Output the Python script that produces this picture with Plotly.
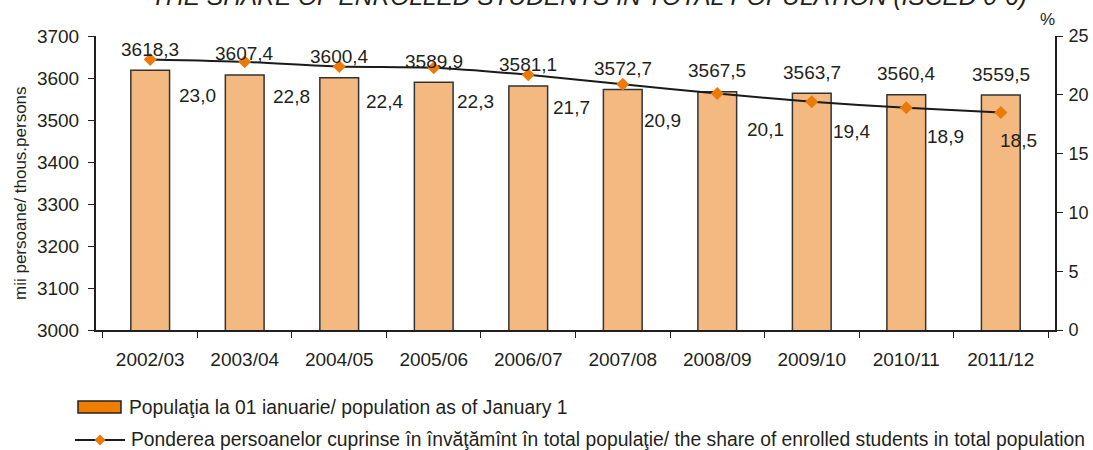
import plotly.graph_objects as go

# ---- data ----
years = ["2002/03", "2003/04", "2004/05", "2005/06", "2006/07",
         "2007/08", "2008/09", "2009/10", "2010/11", "2011/12"]
population = [3618.3, 3607.4, 3600.4, 3589.9, 3581.1,
              3572.7, 3567.5, 3563.7, 3560.4, 3559.5]
share_pct = [23.0, 22.8, 22.4, 22.3, 21.7, 20.9, 20.1, 19.4, 18.9, 18.5]

left_ticks = [3000, 3100, 3200, 3300, 3400, 3500, 3600, 3700]
right_ticks = [0, 5, 10, 15, 20, 25]

# ---- style ----
FONT = "Liberation Sans, Arial, sans-serif"
TXT = "#231F20"
BAR_FILL = "#F4B981"
BAR_LINE = "#333333"
MARK = "#EC7A08"
LEG_SWATCH = "#EE7D00"
# label offsets (px) for percent labels
pct_dx = [47, 47, 45, 42, 43, 40, 48, 40, 39, 18]
pct_dy = [-36, -35, -35, -34, -33, -36, -36, -30, -29, -28]

W, H = 1093, 450
L, R, T, B = 96, 1055, 36, 330


def px_x(p):
    return (p - L) / (R - L)


def px_y(p):
    return (B - p) / (B - T)


def fmt(v):
    return f"{v:.1f}".replace(".", ",")


fig = go.Figure()

fig.add_trace(go.Bar(
    x=years, y=population, yaxis="y",
    marker=dict(color=BAR_FILL, line=dict(color=BAR_LINE, width=1.5)),
    showlegend=False, hoverinfo="skip",
))

fig.add_trace(go.Scatter(
    x=years, y=share_pct, yaxis="y2", mode="lines+markers",
    line=dict(color="#1A1A1A", width=2, shape="spline", smoothing=0.6),
    marker=dict(symbol="diamond", size=10, color=MARK),
    showlegend=False, hoverinfo="skip",
))

annotations = []
# population labels above bars
for x, v in zip(years, population):
    annotations.append(dict(
        x=x, y=v, xref="x", yref="y", text=fmt(v), showarrow=False,
        xanchor="center", yanchor="middle", yshift=21,
        font=dict(family=FONT, size=19, color=TXT)))
# percent labels
for x, v, dx, dy in zip(years, share_pct, pct_dx, pct_dy):
    annotations.append(dict(
        x=x, y=v, xref="x", yref="y2", text=fmt(v), showarrow=False,
        xanchor="center", yanchor="middle", xshift=dx, yshift=dy,
        font=dict(family=FONT, size=19, color=TXT)))

# cut-off title
annotations.append(dict(
    x=px_x(589), y=px_y(-3), xref="paper", yref="paper",
    text="THE SHARE OF ENROLLED STUDENTS IN TOTAL POPULATION (ISCED 0-6)",
    showarrow=False, xanchor="center", yanchor="middle",
    font=dict(family=FONT, size=24.5, color=TXT, style="italic")))

# % unit label
annotations.append(dict(
    x=px_x(1047), y=px_y(19), xref="paper", yref="paper", text="%",
    showarrow=False, xanchor="center", yanchor="middle",
    font=dict(family=FONT, size=17, color=TXT)))

# left axis title
annotations.append(dict(
    x=px_x(20), y=px_y(193), xref="paper", yref="paper",
    text="mii persoane/ thous.persons", textangle=-90, showarrow=False,
    xanchor="center", yanchor="middle",
    font=dict(family=FONT, size=17, color=TXT)))

# legend texts
annotations.append(dict(
    x=px_x(127), y=px_y(407), xref="paper", yref="paper",
    text="Populaţia la 01 ianuarie/ population as of January 1",
    showarrow=False, xanchor="left", yanchor="middle",
    font=dict(family=FONT, size=19.3, color=TXT)))
annotations.append(dict(
    x=px_x(129), y=px_y(439), xref="paper", yref="paper",
    text="Ponderea persoanelor cuprinse în învăţămînt în total populaţie/ "
         "the share of enrolled students in total population",
    showarrow=False, xanchor="left", yanchor="middle",
    font=dict(family=FONT, size=19.3, color=TXT)))

shapes = [
    dict(type="rect", xref="paper", yref="paper",
         x0=px_x(78), x1=px_x(121), y0=px_y(413), y1=px_y(401),
         fillcolor=LEG_SWATCH, line=dict(color="#222222", width=1.5)),
    dict(type="line", xref="paper", yref="paper",
         x0=px_x(75), x1=px_x(125), y0=px_y(440), y1=px_y(440),
         line=dict(color="#1A1A1A", width=2)),
]
cx, cy, d = 100, 440, 5.5
shapes.append(dict(
    type="path", xref="paper", yref="paper",
    path=(f"M {px_x(cx - d)} {px_y(cy)} L {px_x(cx)} {px_y(cy - d)} "
          f"L {px_x(cx + d)} {px_y(cy)} L {px_x(cx)} {px_y(cy + d)} Z"),
    fillcolor=MARK, line=dict(width=0)))

fig.update_layout(
    width=W, height=H,
    margin=dict(l=L, r=W - R, t=T, b=H - B, pad=0),
    paper_bgcolor="white", plot_bgcolor="white",
    bargap=0.59,
    font=dict(family=FONT, size=19, color=TXT),
    xaxis=dict(
        type="category", showline=True, linecolor=TXT, linewidth=2,
        ticks="outside", ticklen=6, tickwidth=1, tickcolor=TXT,
        tickson="boundaries", showgrid=False, zeroline=False, automargin=False,
        tickfont=dict(family=FONT, size=19, color=TXT), ticklabelstandoff=11),
    yaxis=dict(
        range=[3000, 3700], tickvals=left_ticks, showline=True,
        linecolor=TXT, linewidth=2, ticks="outside", ticklen=6, tickwidth=1,
        tickcolor=TXT, showgrid=False, zeroline=False, automargin=False,
        tickfont=dict(family=FONT, size=19, color=TXT), ticklabelstandoff=5),
    yaxis2=dict(
        range=[0, 25], tickvals=right_ticks, overlaying="y", side="right",
        showline=True, linecolor=TXT, linewidth=2, ticks="outside",
        ticklen=6, tickwidth=1, tickcolor=TXT, showgrid=False, zeroline=False,
        automargin=False,
        tickfont=dict(family=FONT, size=18, color=TXT), ticklabelstandoff=2),
    annotations=annotations,
    shapes=shapes,
    showlegend=False,
)

fig.write_html(
    "out.html",
    config={"displayModeBar": False},
    post_script="document.body.style.margin='0';"
                "document.body.style.overflow='hidden';",
)
